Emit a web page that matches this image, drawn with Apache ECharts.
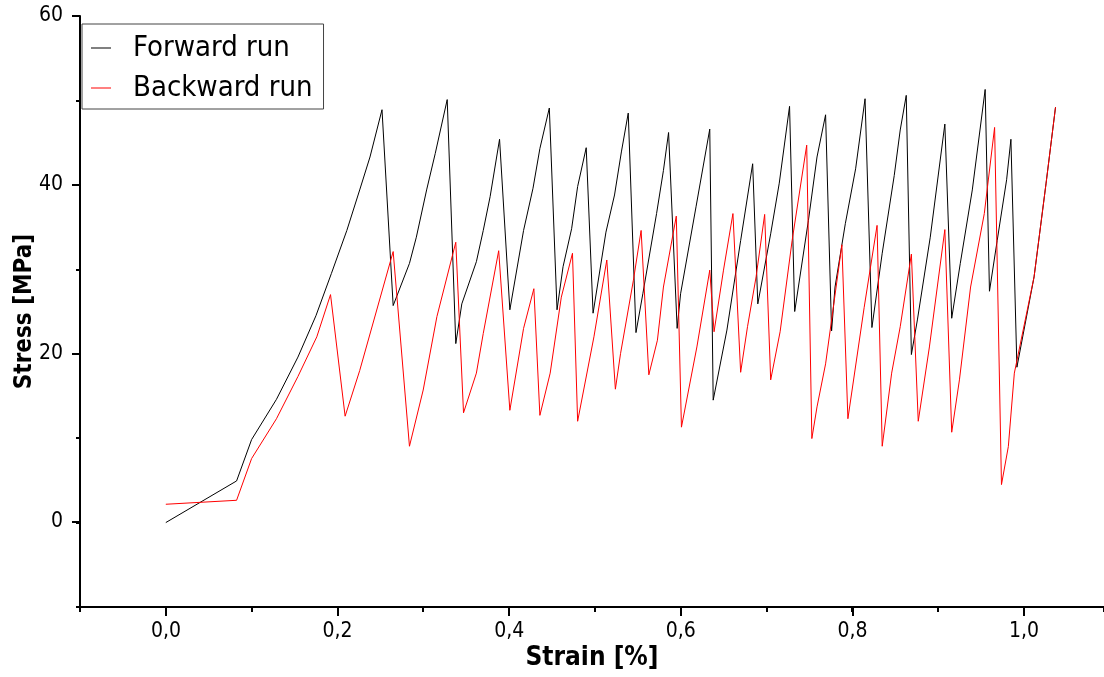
<!DOCTYPE html>
<html>
<head>
<meta charset="utf-8">
<script src="https://cdn.jsdelivr.net/npm/echarts@6/dist/echarts.min.js"></script>
<style>
  html, body { margin: 0; padding: 0; background: #fff; }
  #chart { width: 1104px; height: 677px; }
</style>
</head>
<body>
<div id="chart"></div>
<script>
// forward run (black)
var forwardStrain = [0, 0.0825, 0.100, 0.129, 0.154, 0.175, 0.193, 0.211, 0.226, 0.238, 0.252,
  0.265, 0.284, 0.292, 0.304, 0.314, 0.328, 0.338, 0.345, 0.362, 0.370, 0.378, 0.389,
  0.401, 0.417, 0.428, 0.436, 0.447, 0.456, 0.463, 0.473, 0.480, 0.490, 0.498, 0.513,
  0.523, 0.531, 0.539, 0.548, 0.556, 0.572, 0.580, 0.586, 0.596, 0.600, 0.618, 0.634,
  0.638, 0.654, 0.670, 0.684, 0.690, 0.705, 0.715, 0.727, 0.733, 0.749, 0.759, 0.769,
  0.776, 0.780, 0.792, 0.804, 0.815, 0.823, 0.835, 0.849, 0.856, 0.863, 0.869, 0.876,
  0.891, 0.908, 0.916, 0.926, 0.940, 0.955, 0.960, 0.969, 0.980, 0.985, 0.992, 1.012,
  1.026, 1.037]
var forwardStress = [0, 4.93, 9.83, 14.6, 19.6, 24.5, 29.5, 34.6, 39.4, 43.3, 48.9,
  25.7, 30.7, 33.8, 39.4, 43.7, 50.1, 21.2, 25.9, 30.9, 34.6, 38.6, 45.4,
  25.2, 34.6, 39.6, 44.3, 49.1, 25.2, 30.3, 34.8, 39.8, 44.4, 24.8, 34.4,
  38.8, 43.9, 48.5, 22.5, 27.1, 36.6, 41.7, 46.2, 23.0, 27.1, 37.4, 46.6,
  14.5, 22.8, 33.4, 42.5, 25.9, 34.2, 40.2, 49.3, 25.0, 35.8, 43.3, 48.3,
  22.7, 27.9, 35.4, 41.9, 50.2, 23.1, 31.9, 41.1, 46.5, 50.6, 19.9, 24.0,
  33.8, 47.2, 24.2, 30.7, 39.4, 51.3, 27.4, 33.4, 40.6, 45.4, 18.4, 29.1,
  40.2, 49.2]

// backward run (red)
var backwardStrain = [0, 0.0825, 0.100, 0.129, 0.154, 0.176, 0.192, 0.209, 0.226, 0.265,
  0.284, 0.300, 0.316, 0.338, 0.347, 0.362, 0.370, 0.388, 0.401, 0.417, 0.429, 0.436,
  0.448, 0.461, 0.474, 0.480, 0.499, 0.514, 0.524, 0.530, 0.545, 0.554, 0.563, 0.573,
  0.580, 0.595, 0.601, 0.619, 0.634, 0.639, 0.650, 0.661, 0.670, 0.678, 0.688, 0.698,
  0.705, 0.716, 0.730, 0.747, 0.753, 0.759, 0.769, 0.788, 0.795, 0.814, 0.829, 0.835,
  0.846, 0.856, 0.869, 0.877, 0.890, 0.908, 0.916, 0.925, 0.938, 0.954, 0.966, 0.974,
  0.982, 0.989, 1.012, 1.026, 1.037]
var backwardStress = [2.17, 2.64, 7.58, 12.3, 17.3, 22.0, 27.0, 12.6, 18.0, 32.1,
  9.04, 15.7, 24.4, 33.2, 13.0, 17.7, 22.4, 32.2, 13.3, 23.0, 27.7, 12.7,
  17.7, 26.7, 31.9, 12.0, 22.0, 31.1, 15.8, 20.0, 28.7, 34.6, 17.5, 21.6,
  27.9, 36.3, 11.3, 20.8, 29.9, 22.6, 29.9, 36.6, 17.8, 23.2, 29.1, 36.5,
  16.9, 22.6, 33.4, 44.7, 9.95, 13.7, 18.8, 32.9, 12.3, 25.5, 35.2, 9.04,
  17.7, 23.2, 31.8, 12.0, 20.8, 34.7, 10.7, 16.9, 27.9, 36.6, 46.8, 4.5,
  9.0, 17.7, 29.1, 40.2, 49.2]

var xTicks = [0, 1, 0.2]     // min, max, step of labelled x ticks
var yTicks = [0, 60, 20]     // min, max, step of labelled y ticks

function pairs(xs, ys) {
  return xs.map(function (x, i) { return [x, ys[i]] })
}

var font = '"DejaVu Sans Condensed", "DejaVu Sans"'
var chart = echarts.init(document.getElementById('chart'))

chart.setOption({
  animation: false,
  backgroundColor: '#fff',
  textStyle: { fontFamily: font },
  legend: {
    orient: 'vertical',
    left: 82,
    top: 24,
    padding: [8, 11, 5, 9],
    itemGap: 8,
    itemWidth: 20,
    itemHeight: 1,
    icon: 'rect',
    borderColor: '#444',
    borderWidth: 1,
    textStyle: { fontFamily: font, fontSize: 29, color: '#000', lineHeight: 32, padding: [0, 0, 0, 17] },
    data: ['Forward run', 'Backward run']
  },
  grid: [
    { left: 80, right: 0, top: 16, bottom: 70 },
    { left: 166, right: 80, top: 16, bottom: 155 }
  ],
  xAxis: [
    {
      // axis runs off the right edge of the picture, as in the original
      type: 'value', gridIndex: 0, min: -0.1, max: 1.0935, interval: 0.1,
      name: 'Strain [%]', nameLocation: 'middle', nameGap: 38,
      nameTextStyle: { fontFamily: font, fontSize: 26, fontWeight: 'bold', color: '#000' },
      axisLine: { onZero: false, lineStyle: { color: '#000', width: 2 } },
      axisTick: { length: 5, lineStyle: { color: '#000', width: 2 } },
      axisLabel: { show: false },
      splitLine: { show: false }
    },
    {
      type: 'value', gridIndex: 1, min: xTicks[0], max: xTicks[1], interval: xTicks[2],
      position: 'bottom', offset: 85,
      axisLine: { show: false, onZero: false },
      axisTick: { show: true, length: 9, lineStyle: { color: '#000', width: 2 } },
      axisLabel: {
        margin: 14, fontFamily: font, fontSize: 21, color: '#000',
        formatter: function (v) { return v.toFixed(1).replace('.', ',') }
      },
      splitLine: { show: false }
    }
  ],
  yAxis: [
    {
      type: 'value', gridIndex: 0, min: -10, max: 60, interval: 10,
      name: 'Stress [MPa]', nameLocation: 'middle', nameGap: 43, nameRotate: 90,
      nameTextStyle: { fontFamily: font, fontSize: 24, fontWeight: 'bold', color: '#000' },
      axisLine: { show: true, onZero: false, lineStyle: { color: '#000', width: 2 } },
      axisTick: { show: true, length: 4, lineStyle: { color: '#000', width: 2 } },
      axisLabel: { show: false },
      splitLine: { show: false }
    },
    {
      type: 'value', gridIndex: 1, min: yTicks[0], max: yTicks[1], interval: yTicks[2],
      position: 'left', offset: 86,
      axisLine: { show: false, onZero: false },
      axisTick: { show: true, length: 8, lineStyle: { color: '#000', width: 2 } },
      axisLabel: { margin: 17, fontFamily: font, fontSize: 21, color: '#000' },
      splitLine: { show: false }
    }
  ],
  series: [
    {
      name: 'Forward run', type: 'line', xAxisIndex: 0, yAxisIndex: 0,
      data: pairs(forwardStrain, forwardStress),
      showSymbol: false, symbol: 'none',
      lineStyle: { color: '#000', width: 1 },
      itemStyle: { color: '#000' }
    },
    {
      name: 'Backward run', type: 'line', xAxisIndex: 0, yAxisIndex: 0,
      data: pairs(backwardStrain, backwardStress),
      showSymbol: false, symbol: 'none',
      lineStyle: { color: '#ff0000', width: 1 },
      itemStyle: { color: '#ff0000' }
    }
  ]
})
</script>
</body>
</html>
